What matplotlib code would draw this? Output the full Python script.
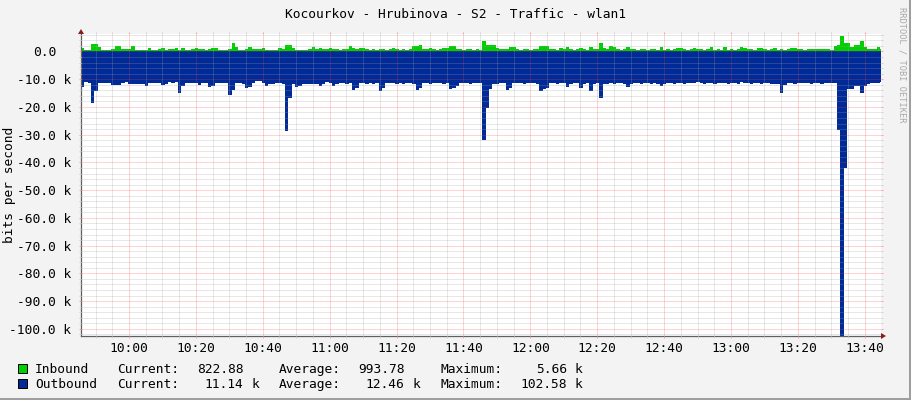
import numpy as np
import matplotlib
matplotlib.use('Agg')
import matplotlib.pyplot as plt
import matplotlib.ticker as ticker
import matplotlib.transforms as mtransforms
from matplotlib.patches import Rectangle, Polygon

plt.rcParams['font.family'] = 'DejaVu Sans Mono'

#1-minute samples starting 9:45:40, values in k bits per second
start_min = 9 * 60 + 45 + 40 / 60.0

inbound = [
    1.2, 0.6, 0.6, 2.8, 2.8, 1.5, 0.6, 0.6, 0.6, 0.8, 2.0, 2.0, 0.8, 0.8, 0.8, 1.8, 0.6, 0.6, 0.6, 0.7,
    1.2, 0.6, 0.7, 0.9, 1.2, 0.7, 0.8, 0.8, 1.2, 0.6, 1.2, 0.6, 0.6, 0.8, 1.2, 1.0, 0.8, 0.7, 0.8, 1.2,
    1.2, 0.6, 0.6, 0.6, 1.0, 3.2, 1.5, 0.6, 0.6, 1.0, 1.7, 0.8, 0.8, 0.8, 1.4, 0.6, 0.6, 0.6, 0.7, 1.2,
    0.8, 2.4, 2.4, 1.2, 0.6, 0.6, 0.6, 0.6, 0.8, 1.6, 0.8, 1.4, 0.8, 0.8, 1.3, 0.8, 0.8, 0.7, 0.8, 0.8,
    2.1, 1.4, 0.8, 1.2, 1.2, 0.8, 0.7, 0.8, 0.7, 0.9, 0.8, 0.7, 0.8, 1.2, 0.8, 0.7, 0.8, 0.7, 0.8, 1.8,
    1.8, 2.4, 1.0, 0.8, 1.2, 0.8, 0.7, 0.8, 1.2, 1.2, 2.1, 2.1, 0.8, 0.8, 0.7, 0.8, 0.8, 0.7, 0.8, 0.7,
    3.9, 2.4, 2.4, 2.4, 1.2, 0.8, 0.8, 0.8, 1.6, 1.6, 0.8, 0.7, 0.8, 0.8, 0.7, 0.8, 0.8, 1.8, 1.8, 1.8,
    0.8, 0.8, 0.7, 1.2, 0.8, 1.5, 0.8, 0.7, 0.8, 1.3, 0.8, 0.7, 1.5, 0.8, 0.8, 3.0, 1.2, 0.8, 1.8, 1.6,
    0.8, 0.7, 0.8, 1.5, 0.8, 0.8, 0.7, 0.8, 0.8, 0.7, 0.8, 0.8, 0.7, 1.5, 0.7, 0.8, 0.7, 0.8, 1.2, 1.2,
    0.8, 0.7, 0.8, 1.2, 0.8, 0.8, 0.7, 0.8, 1.5, 0.7, 0.8, 0.7, 1.5, 0.7, 0.8, 0.7, 0.8, 1.5, 1.4, 0.8,
    0.8, 0.7, 1.2, 1.2, 0.8, 0.7, 0.8, 1.2, 0.7, 0.8, 0.7, 0.8, 1.2, 1.2, 1.0, 0.8, 0.7, 0.8, 0.8, 0.9,
    0.9, 0.8, 0.8, 0.8, 0.7, 1.8, 2.4, 5.66, 3.0, 3.2, 1.6, 2.4, 2.4, 3.6, 1.5, 0.8, 0.8, 0.8, 1.6, 0.823,
]

outbound = [
    12.7, 11.0, 11.2, 18.6, 14.4, 11.2, 11.4, 11.4, 11.5, 12.0, 12.1, 12.0, 11.2, 11.1, 11.6, 11.8, 11.7, 11.6, 11.8, 12.4,
    11.4, 11.3, 11.5, 11.4, 12.0, 11.9, 11.1, 11.2, 11.0, 15.0, 12.6, 11.4, 11.3, 11.5, 11.4, 12.0, 11.4, 11.3, 12.8, 12.6,
    11.4, 11.3, 11.5, 11.4, 15.6, 13.8, 11.4, 11.3, 11.9, 13.1, 12.8, 11.4, 10.6, 10.7, 11.4, 12.6, 11.7, 11.6, 11.5, 11.4,
    11.7, 28.6, 16.8, 11.8, 12.8, 12.6, 11.7, 11.6, 11.6, 11.8, 11.9, 12.3, 11.8, 10.9, 11.3, 12.4, 11.6, 11.4, 11.5, 11.6,
    11.4, 13.8, 13.2, 11.5, 11.3, 11.6, 11.4, 11.7, 11.5, 14.1, 13.0, 11.2, 11.4, 11.5, 11.6, 11.4, 11.7, 11.5, 11.3, 11.6,
    13.8, 13.0, 11.5, 11.4, 11.6, 11.3, 11.5, 11.4, 11.7, 11.5, 13.5, 13.2, 12.6, 11.4, 11.3, 11.5, 11.6, 11.4, 11.3, 11.5,
    31.8, 20.4, 13.5, 11.8, 11.6, 11.4, 11.5, 13.8, 13.2, 11.5, 11.2, 11.4, 11.6, 11.3, 11.5, 11.4, 11.6, 14.4, 13.6, 13.0,
    11.4, 11.3, 11.6, 11.5, 11.4, 12.8, 11.6, 11.4, 11.3, 13.2, 11.8, 11.5, 14.2, 11.6, 11.4, 16.8, 11.8, 11.6, 11.5, 11.7,
    11.5, 11.4, 11.6, 12.8, 11.9, 11.5, 11.4, 11.6, 11.5, 11.4, 11.6, 11.5, 11.7, 12.4, 11.6, 11.4, 11.5, 11.6, 11.4, 11.5,
    11.6, 11.4, 11.3, 11.2, 11.1, 11.5, 11.6, 11.4, 11.5, 11.6, 11.4, 11.5, 11.3, 11.6, 11.5, 11.4, 11.6, 11.1, 11.2, 11.5,
    11.6, 11.5, 11.4, 11.6, 11.5, 11.4, 11.6, 11.8, 11.7, 14.8, 12.0, 11.5, 11.4, 11.6, 11.3, 11.2, 11.4, 11.5, 11.6, 11.4,
    11.5, 11.6, 11.4, 11.5, 11.3, 11.2, 28.2, 102.58, 42.0, 13.5, 13.4, 12.4, 12.3, 15.0, 12.4, 11.6, 11.4, 11.5, 11.4, 11.14,
]

x_ticks = [600, 620, 640, 660, 680, 700, 720, 740, 760, 780, 800, 820]  #minutes after midnight
x_labels = ['10:00', '10:20', '10:40', '11:00', '11:20', '11:40',
            '12:00', '12:20', '12:40', '13:00', '13:20', '13:40']
y_ticks = [0, -10, -20, -30, -40, -50, -60, -70, -80, -90, -100]
y_labels = ['0.0', '-10.0 k', '-20.0 k', '-30.0 k', '-40.0 k', '-50.0 k',
            '-60.0 k', '-70.0 k', '-80.0 k', '-90.0 k', '-100.0 k']

title = 'Kocourkov - Hrubinova - S2 - Traffic - wlan1'
names = ['Inbound', 'Outbound']
colors = ['#00CF00', '#002A97']
cur_vals = [('822.88', ''), ('11.14', 'k')]
avg_vals = [('993.78', ''), ('12.46', 'k')]
max_vals = [('5.66', 'k'), ('102.58', 'k')]

W, H = 911, 400
fs = 9.3


def fx(x):  #pixel x -> figure fraction
    return x / W


def fy(y):  #pixel y (from top) -> figure fraction
    return 1 - y / H


fig = plt.figure(figsize=(W / 100, H / 100), dpi=100, facecolor='#F3F3F3')
ax = fig.add_axes([fx(81), fy(336), 800 / W, 302 / H])
ax.set_facecolor('white')

#areas, drawn as 1 minute steps like rrdtool does
edges = start_min + np.arange(len(inbound) + 1)
ax.stairs(inbound, edges, baseline=0, fill=True, color=colors[0], lw=0, zorder=1)
ax.stairs(-np.array(outbound), edges, baseline=0, fill=True, color=colors[1], lw=0, zorder=1)

ax.set_xlim(585.65, 585.65 + 239.2)
ax.set_ylim(-102.58, 6.3)

ax.xaxis.set_major_locator(ticker.FixedLocator(x_ticks))
ax.xaxis.set_major_formatter(ticker.FixedFormatter(x_labels))
ax.xaxis.set_minor_locator(ticker.MultipleLocator(5))
ax.yaxis.set_major_locator(ticker.FixedLocator(y_ticks))
ax.yaxis.set_major_formatter(ticker.FixedFormatter(y_labels))
ax.yaxis.set_minor_locator(ticker.MultipleLocator(2))

#dotted grid on top of the data
ax.set_axisbelow(False)
ax.grid(which='minor', color='#A0A0A0', alpha=0.5, lw=0.72, ls=(0, (1, 1)))
ax.grid(which='major', color='#FF4040', alpha=0.45, lw=0.72, ls=(0, (1, 1)))

ax.tick_params(which='both', direction='out', length=1.5, width=0.72,
               top=True, right=True, labelsize=fs)
ax.tick_params(which='minor', color='#D0D0D0')
ax.tick_params(which='major', color='#F4A0A0')
ax.tick_params(axis='x', pad=3.0)
ax.tick_params(axis='y', pad=5.6)

for s in ['top', 'right']:
    ax.spines[s].set_visible(False)
for s in ['left', 'bottom']:
    ax.spines[s].set_color('#606060')
    ax.spines[s].set_linewidth(0.9)

#rrdtool leaves room for the unit after "0.0"
lab = ax.yaxis.get_major_ticks()[0].label1
lab.set_transform(lab.get_transform() + mtransforms.ScaledTranslation(-15 / 100, 0, fig.dpi_scale_trans))

#axis arrows
fig.add_artist(Polygon([(fx(78), fy(34)), (fx(84), fy(34)), (fx(81), fy(29))],
                       closed=True, transform=fig.transFigure, color='#8B1C1C', lw=0))
fig.add_artist(Polygon([(fx(881), fy(333)), (fx(881), fy(339)), (fx(886), fy(336))],
                       closed=True, transform=fig.transFigure, color='#8B1C1C', lw=0))

fig.text(fx(455.5), fy(14), title, ha='center', va='center', fontsize=fs)
fig.text(fx(10), fy(185), 'bits per second', rotation=90, ha='center', va='center', fontsize=fs)
fig.text(fx(902), fy(7), 'RRDTOOL / TOBI OETIKER', rotation=270, ha='center', va='top',
         fontsize=6.2, color='#A8A8A8')

#legend with the gprint values, text sits on a common baseline
rows_y = [373.3, 388.3]
for i in range(2):
    y = rows_y[i]
    fig.add_artist(Rectangle((fx(17.5), fy(y)), 9 / W, 9 / H, transform=fig.transFigure,
                             facecolor=colors[i], edgecolor='black', lw=0.72))
    fig.text(fx(35), fy(y), names[i], va='baseline', fontsize=fs)
    fig.text(fx(116.7), fy(y), 'Current:', va='baseline', fontsize=fs)
    fig.text(fx(243.5), fy(y), cur_vals[i][0], ha='right', va='baseline', fontsize=fs)
    fig.text(fx(251.5), fy(y), cur_vals[i][1], va='baseline', fontsize=fs)
    fig.text(fx(279), fy(y), 'Average:', va='baseline', fontsize=fs)
    fig.text(fx(404.5), fy(y), avg_vals[i][0], ha='right', va='baseline', fontsize=fs)
    fig.text(fx(412.5), fy(y), avg_vals[i][1], va='baseline', fontsize=fs)
    fig.text(fx(440.7), fy(y), 'Maximum:', va='baseline', fontsize=fs)
    fig.text(fx(567), fy(y), max_vals[i][0], ha='right', va='baseline', fontsize=fs)
    fig.text(fx(575), fy(y), max_vals[i][1], va='baseline', fontsize=fs)

#shaded frame at the right and bottom edges
fig.add_artist(Rectangle((fx(908.5), 0), 2.5 / W, 1, transform=fig.transFigure, color='#9E9E9E', lw=0))
fig.add_artist(Rectangle((0, 0), 1, 2.5 / H, transform=fig.transFigure, color='#9E9E9E', lw=0))

plt.savefig('out.png', dpi=100, facecolor=fig.get_facecolor())
